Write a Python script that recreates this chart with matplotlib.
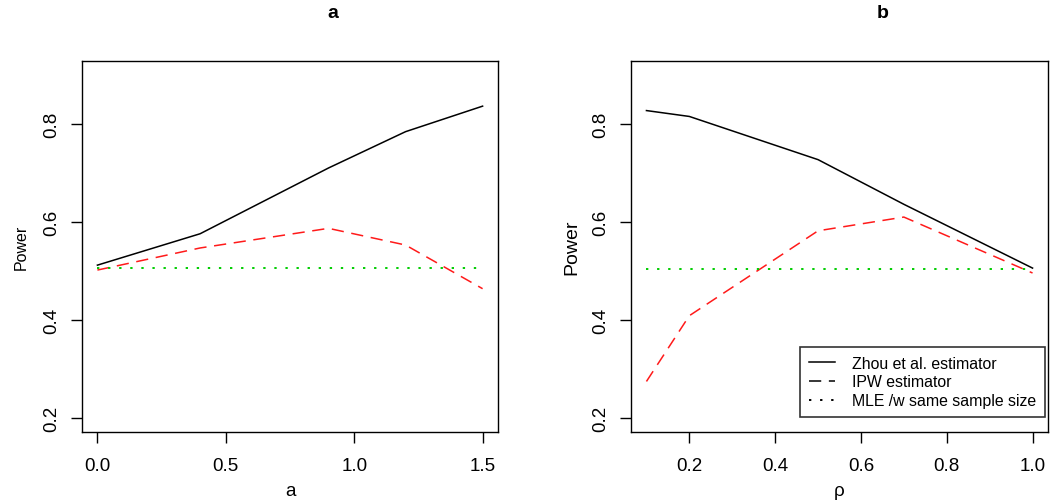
import matplotlib
matplotlib.use("Agg")
import matplotlib.pyplot as plt

plt.rcParams['font.family'] = ['Liberation Sans', 'DejaVu Sans']

# panel a data
x_a = [0.0, 0.4, 0.9, 1.2, 1.5]
zhou_a = [0.512, 0.576, 0.710, 0.784, 0.836]
ipw_a = [0.502, 0.547, 0.587, 0.553, 0.464]
mle_a = [0.506, 0.506, 0.506, 0.506, 0.506]

# panel b data
x_rho = [0.1, 0.2, 0.5, 0.7, 1.0]
zhou_rho = [0.827, 0.815, 0.727, 0.636, 0.506]
ipw_rho = [0.275, 0.409, 0.582, 0.610, 0.496]
mle_rho = [0.504, 0.504, 0.504, 0.504, 0.504]

legend_labels = ["Zhou et al. estimator", "IPW estimator", "MLE /w same sample size"]

fig = plt.figure(figsize=(10.5, 5.02), dpi=100)
ax1 = fig.add_axes([82/1050, 69/502, 416/1050, 371/502])
ax2 = fig.add_axes([631/1050, 69/502, 417/1050, 371/502])

red = '#ff1a1a'
green = '#00cd00'


def draw(ax, x, zhou, ipw, mle):
    ax.plot(x, zhou, color='black', lw=1.1)
    ax.plot(x, ipw, color=red, lw=1.1, dashes=(8, 5))
    ax.plot(x, mle, color=green, lw=1.4, dashes=(1.2, 4.5))
    ax.set_ylim(0.2 - 0.028, 0.9 + 0.028)
    ax.set_yticks([0.2, 0.4, 0.6, 0.8])
    ax.set_yticklabels(['0.2', '0.4', '0.6', '0.8'], rotation=90, va='center')
    ax.tick_params(axis='both', length=8, width=1.0, labelsize=13.5, direction='out')
    ax.tick_params(axis='x', pad=10)
    ax.tick_params(axis='y', pad=8)
    for s in ax.spines.values():
        s.set_linewidth(1.0)


draw(ax1, x_a, zhou_a, ipw_a, mle_a)
ax1.set_xlim(-0.06, 1.56)
ax1.set_xticks([0.0, 0.5, 1.0, 1.5])
ax1.set_xlabel('a', fontsize=13.5, labelpad=6)
ax1.set_ylabel('Power', fontsize=11.5, labelpad=10)

draw(ax2, x_rho, zhou_rho, ipw_rho, mle_rho)
ax2.set_xlim(0.064, 1.036)
ax2.set_xticks([0.2, 0.4, 0.6, 0.8, 1.0])
ax2.set_xlabel('ρ', fontsize=13.5, labelpad=6)
ax2.set_ylabel('Power', fontsize=14, labelpad=8)

leg = ax2.legend(legend_labels, loc='lower right', bbox_to_anchor=(0.992, 0.04),
                 borderaxespad=0, fontsize=11.4, frameon=True, fancybox=False,
                 edgecolor='black', handlelength=1.65, handletextpad=1.05,
                 labelspacing=0.25, borderpad=0.55)
leg.get_frame().set_linewidth(1.2)
for h in leg.get_lines():
    h.set_color('black')

fig.text(333/1050, 1 - 14/502, 'a', fontsize=14, fontweight='bold', ha='center', va='center')
fig.text(883/1050, 1 - 14/502, 'b', fontsize=14, fontweight='bold', ha='center', va='center')

fig.savefig('out.png', dpi=100)
